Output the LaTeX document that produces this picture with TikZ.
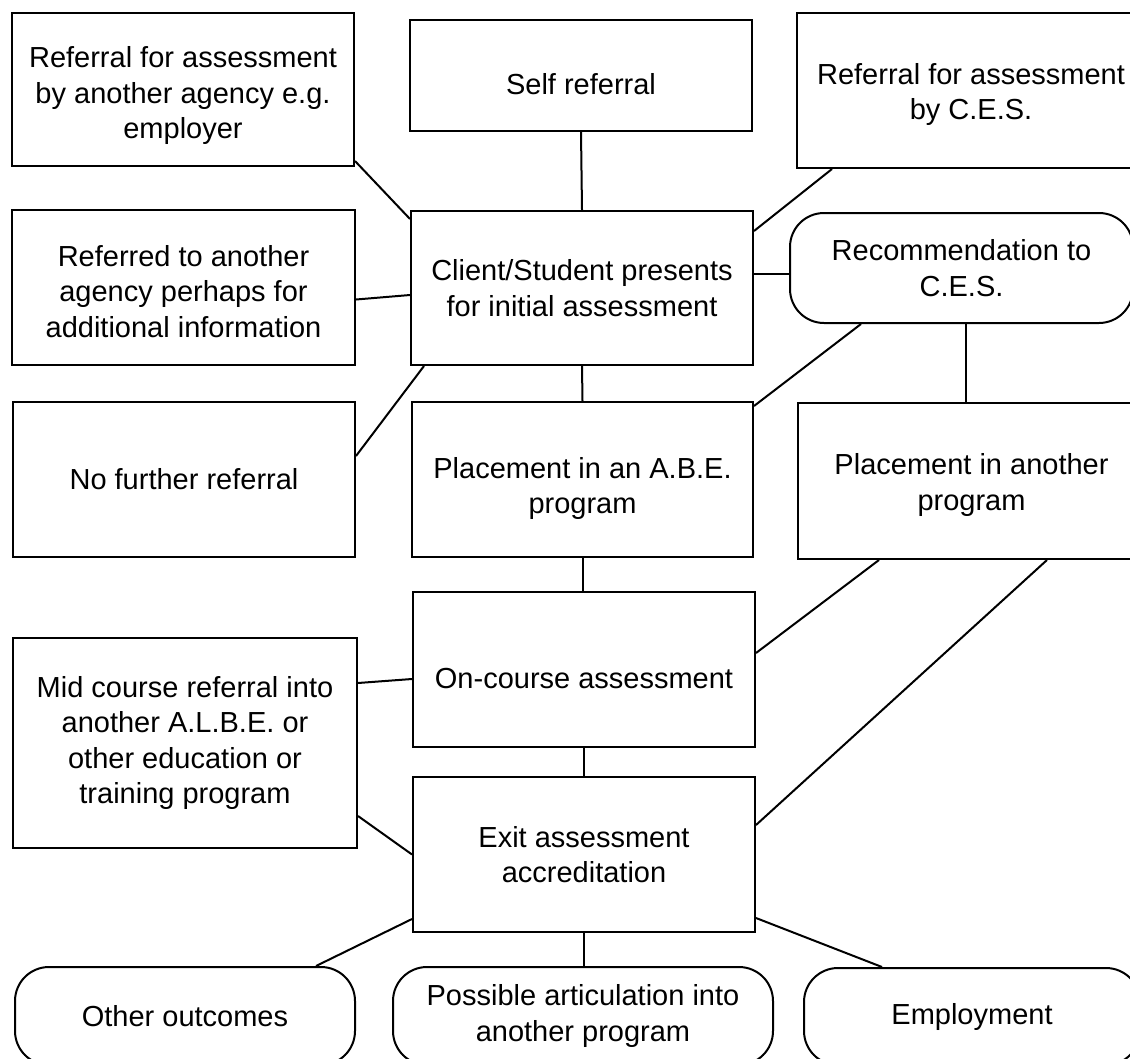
\documentclass[tikz,border=0pt]{standalone}
\usepackage{fontspec}
\setmainfont{Liberation Sans}
\usetikzlibrary{calc}
\newcommand{\droptext}[2]{\raisebox{-#1}[\height][\depth]{\parbox{330pt}{\centering #2}}}
\begin{document}
\begin{tikzpicture}[x=1pt,y=-1pt,
  box/.style={draw=black, line width=2pt, inner sep=0pt, align=center,
    font=\fontsize{29}{35.5}\selectfont},
  rbox/.style={box, rounded corners=34pt},
  link/.style={draw=black, line width=2pt}]
\useasboundingbox (0,0) rectangle (1130,1058);
\clip (0,0) rectangle (1130,1058);
\fill[white] (0,0) rectangle (1130,1058);
% nodes
\node[box, minimum width=342pt, minimum height=153pt] (b1) at (183,89.5)
  {\droptext{6pt}{Referral for assessment\\by another agency e.g.\\employer}};
\node[box, minimum width=342pt, minimum height=111pt] (b2) at (581,75.5)
  {\droptext{9pt}{Self referral}};
\node[box, minimum width=348pt, minimum height=155pt] (b3) at (971,90.5)
  {\droptext{4pt}{Referral for assessment\\by C.E.S.}};
\node[box, minimum width=342pt, minimum height=154pt] (b4) at (582,288)
  {Client/Student presents\\for initial assessment};
\node[box, minimum width=343pt, minimum height=155pt] (b5) at (183.5,287.5)
  {\droptext{4pt}{Referred to another\\agency perhaps for\\additional information}};
\node[rbox, minimum width=343pt, minimum height=110pt] (rec) at (961.5,268)
  {Recommendation to\\C.E.S.};
\node[box, minimum width=342pt, minimum height=155pt] (b7) at (184,479.5)
  {No further referral};
\node[box, minimum width=341pt, minimum height=155pt] (b8) at (582.5,479.5)
  {\droptext{9pt}{Placement in an A.B.E.\\program}};
\node[box, minimum width=347pt, minimum height=156pt] (b9) at (971.5,481)
  {\droptext{4pt}{Placement in another\\program}};
\node[box, minimum width=342pt, minimum height=155pt] (b10) at (584,669.5)
  {\droptext{9pt}{On-course assessment}};
\node[box, minimum width=344pt, minimum height=210pt] (b11) at (185,743)
  {Mid course referral into\\another A.L.B.E. or\\other education or\\training program};
\node[box, minimum width=342pt, minimum height=155pt] (b12) at (584,854.5)
  {Exit assessment\\accreditation};
\node[rbox, minimum width=340pt, minimum height=98pt] (oth) at (185,1016)
  {Other outcomes};
\node[rbox, minimum width=380pt, minimum height=98pt] (art) at (583,1016)
  {Possible articulation into\\another program};
\node[rbox, minimum width=336pt, minimum height=97pt] (emp) at (972,1016.5)
  {Employment};
% connectors
\draw[link] ($(b1.south east)+(0,-6)$) -- ($(b4.north west)+(0,9)$);
\draw[link] (b2.south) -- (b4.north);
\draw[link] ($(b3.south west)+(36,0)$) -- ($(b4.north east)+(0,21)$);
\draw[link] ($(b5.east)+(0,12)$) -- ($(b4.west)+(0,7)$);
\draw[link] ($(b4.east)+(0,-14)$) -- ($(rec.west)+(0,6)$);
\draw[link] ($(b7.north east)+(0,55)$) -- ($(b4.south west)+(14,0)$);
\draw[link] (b4.south) -- (b8.north);
\draw[link] ($(rec.south west)+(72,0)$) -- ($(b8.north east)+(0,5)$);
\draw[link] ($(rec.south)+(4.5,0)$) -- ($(b9.north)+(-5.5,0)$);
\draw[link] (b8.south) -- ($(b10.north)+(-1.5,0)$);
\draw[link] ($(b9.south west)+(82,0)$) -- ($(b10.east)+(0,-16.5)$);
\draw[link] ($(b9.south west)+(250,0)$) -- ($(b12.north east)+(0,49)$);
\draw[link] ($(b11.north east)+(0,46)$) -- ($(b10.west)+(0,9.5)$);
\draw[link] (b10.south) -- (b12.north);
\draw[link] ($(b11.south east)+(0,-33)$) -- (b12.west);
\draw[link] ($(b12.south west)+(0,-14)$) -- ($(oth.north east)+(-40,0)$);
\draw[link] (b12.south) -- ($(art.north)+(1,0)$);
\draw[link] ($(b12.south east)+(0,-15)$) -- ($(emp.north west)+(79,0)$);
\end{tikzpicture}
\end{document}
